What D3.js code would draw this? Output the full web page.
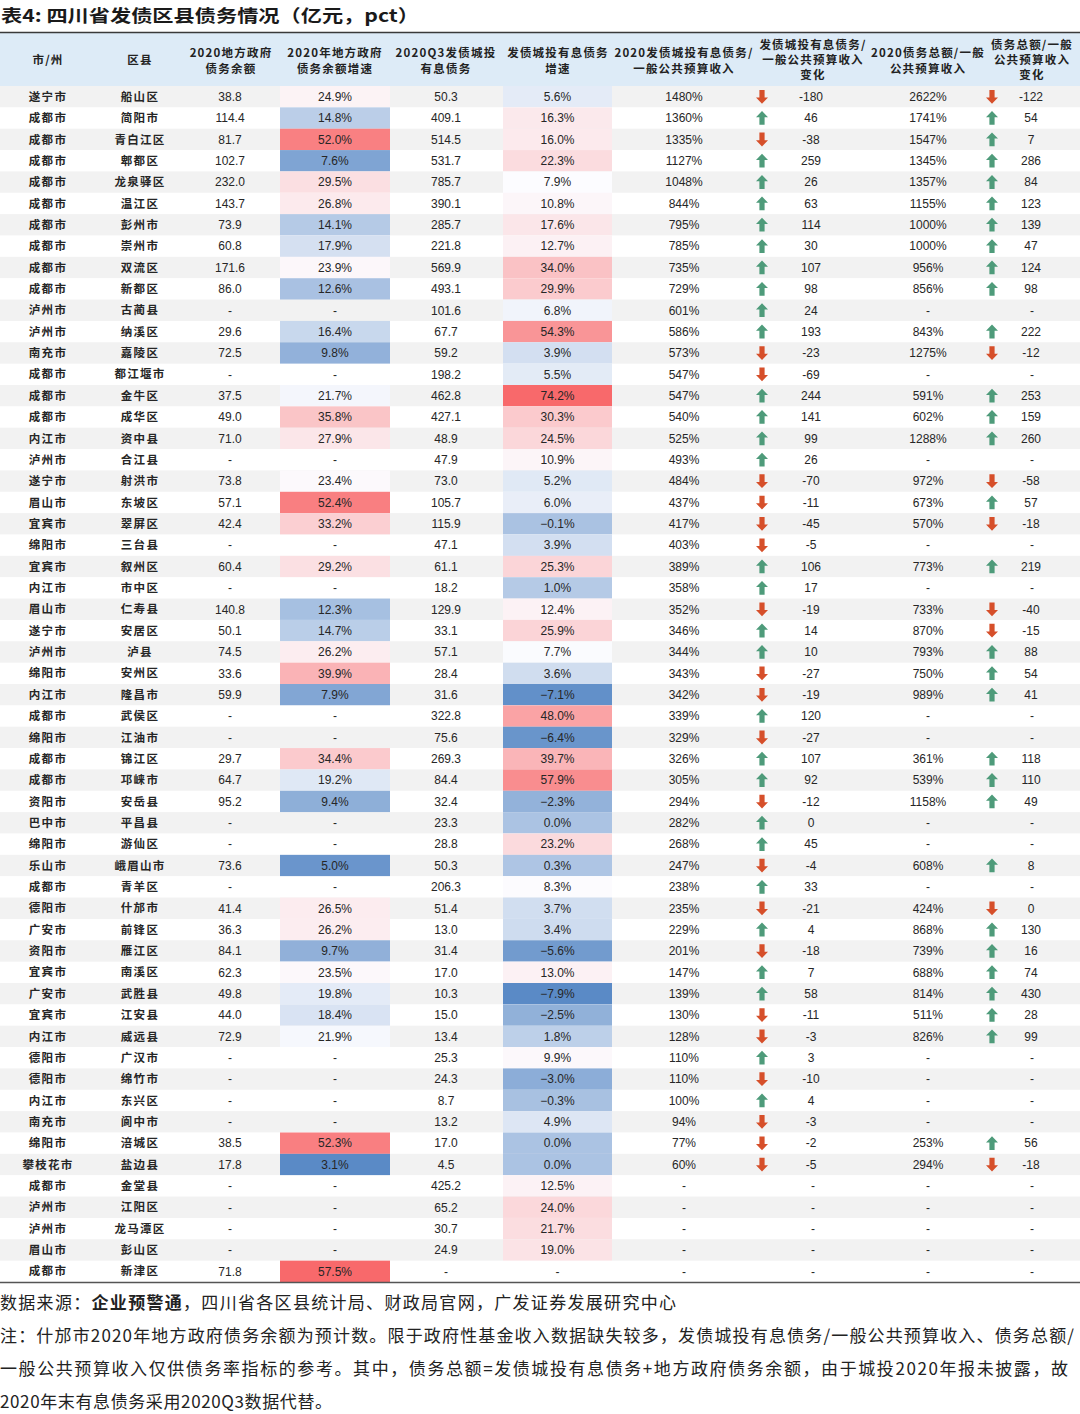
<!DOCTYPE html>
<html><head><meta charset="utf-8">
<script src="https://cdn.jsdelivr.net/npm/d3@7"></script>
<style>body{margin:0;background:#fff}</style>
</head><body><svg id="c" width="1080" height="1414"></svg>
<script>
// ---------- DATA ----------
const cities=["遂宁市","成都市","成都市","成都市","成都市","成都市","成都市","成都市","成都市","成都市","泸州市","泸州市","南充市","成都市","成都市","成都市","内江市","泸州市","遂宁市","眉山市","宜宾市","绵阳市","宜宾市","内江市","眉山市","遂宁市","泸州市","绵阳市","内江市","成都市","绵阳市","成都市","成都市","资阳市","巴中市","绵阳市","乐山市","成都市","德阳市","广安市","资阳市","宜宾市","广安市","宜宾市","内江市","德阳市","德阳市","内江市","南充市","绵阳市","攀枝花市","成都市","泸州市","泸州市","眉山市","成都市"];
const counties=["船山区","简阳市","青白江区","郫都区","龙泉驿区","温江区","彭州市","崇州市","双流区","新都区","古蔺县","纳溪区","嘉陵区","都江堰市","金牛区","成华区","资中县","合江县","射洪市","东坡区","翠屏区","三台县","叙州区","市中区","仁寿县","安居区","泸县","安州区","隆昌市","武侯区","江油市","锦江区","邛崃市","安岳县","平昌县","游仙区","峨眉山市","青羊区","什邡市","前锋区","雁江区","南溪区","武胜县","江安县","威远县","广汉市","绵竹市","东兴区","阆中市","涪城区","盐边县","金堂县","江阳区","龙马潭区","彭山区","新津区"];
const govDebt=[38.8,114.4,81.7,102.7,232.0,143.7,73.9,60.8,171.6,86.0,null,29.6,72.5,null,37.5,49.0,71.0,null,73.8,57.1,42.4,null,60.4,null,140.8,50.1,74.5,33.6,59.9,null,null,29.7,64.7,95.2,null,null,73.6,null,41.4,36.3,84.1,62.3,49.8,44.0,72.9,null,null,null,null,38.5,17.8,null,null,null,null,71.8];
const govGrowth=[24.9,14.8,52.0,7.6,29.5,26.8,14.1,17.9,23.9,12.6,null,16.4,9.8,null,21.7,35.8,27.9,null,23.4,52.4,33.2,null,29.2,null,12.3,14.7,26.2,39.9,7.9,null,null,34.4,19.2,9.4,null,null,5.0,null,26.5,26.2,9.7,23.5,19.8,18.4,21.9,null,null,null,null,52.3,3.1,null,null,null,null,57.5];
const lgfvDebt=[50.3,409.1,514.5,531.7,785.7,390.1,285.7,221.8,569.9,493.1,101.6,67.7,59.2,198.2,462.8,427.1,48.9,47.9,73.0,105.7,115.9,47.1,61.1,18.2,129.9,33.1,57.1,28.4,31.6,322.8,75.6,269.3,84.4,32.4,23.3,28.8,50.3,206.3,51.4,13.0,31.4,17.0,10.3,15.0,13.4,25.3,24.3,8.7,13.2,17.0,4.5,425.2,65.2,30.7,24.9,null];
const lgfvGrowth=[5.6,16.3,16.0,22.3,7.9,10.8,17.6,12.7,34.0,29.9,6.8,54.3,3.9,5.5,74.2,30.3,24.5,10.9,5.2,6.0,-0.1,3.9,25.3,1.0,12.4,25.9,7.7,3.6,-7.1,48.0,-6.4,39.7,57.9,-2.3,0.0,23.2,0.3,8.3,3.7,3.4,-5.6,13.0,-7.9,-2.5,1.8,9.9,-3.0,-0.3,4.9,0.0,0.0,12.5,24.0,21.7,19.0,null];
const lgfvRatio=[1480,1360,1335,1127,1048,844,795,785,735,729,601,586,573,547,547,540,525,493,484,437,417,403,389,358,352,346,344,343,342,339,329,326,305,294,282,268,247,238,235,229,201,147,139,130,128,110,110,100,94,77,60,null,null,null,null,null];
const lgfvRatioChg=[-180,46,-38,259,26,63,114,30,107,98,24,193,-23,-69,244,141,99,26,-70,-11,-45,-5,106,17,-19,14,10,-27,-19,120,-27,107,92,-12,0,45,-4,33,-21,4,-18,7,58,-11,-3,3,-10,4,-3,-2,-5,null,null,null,null,null];
const lgfvRatioDir=[-1,1,-1,1,1,1,1,1,1,1,1,1,-1,-1,1,1,1,1,-1,-1,-1,-1,1,1,-1,1,1,-1,-1,1,-1,1,1,-1,1,1,-1,1,-1,1,-1,1,1,-1,-1,1,-1,1,-1,-1,-1,null,null,null,null,null];
const totalRatio=[2622,1741,1547,1345,1357,1155,1000,1000,956,856,null,843,1275,null,591,602,1288,null,972,673,570,null,773,null,733,870,793,750,989,null,null,361,539,1158,null,null,608,null,424,868,739,688,814,511,826,null,null,null,null,253,294,null,null,null,null,null];
const totalRatioChg=[-122,54,7,286,84,123,139,47,124,98,null,222,-12,null,253,159,260,null,-58,57,-18,null,219,null,-40,-15,88,54,41,null,null,118,110,49,null,null,8,null,0,130,16,74,430,28,99,null,null,null,null,56,-18,null,null,null,null,null];
const totalRatioDir=[-1,1,1,1,1,1,1,1,1,1,null,1,-1,null,1,1,1,null,-1,1,-1,null,1,null,-1,-1,1,1,1,null,null,1,1,1,null,null,1,null,-1,1,1,1,1,1,1,null,null,null,null,1,-1,null,null,null,null,null];

const headers=[
  ["市/州"],["区县"],["2020地方政府","债务余额"],["2020年地方政府","债务余额增速"],
  ["2020Q3发债城投","有息债务"],["发债城投有息债务","增速"],["2020发债城投有息债务/","一般公共预算收入"],
  ["发债城投有息债务/","一般公共预算收入","变化"],["2020债务总额/一般","公共预算收入"],["债务总额/一般","公共预算收入","变化"]
];
const title="表4:  四川省发债区县债务情况（亿元，pct）";

// ---------- LAYOUT ----------
const W=1080,H=1414;
const headerX=[48,140,231,335,446,558,684,813,928,1032];
const X={city:48,county:140,gov:230,govG:[280,390],lgfv:446,lgfvG:[503,612],r1:684,a1:762,c1:811,r2:928,a2:992,c2:1031};
const numFont="'Liberation Sans', Arial, sans-serif";
const cjkFont="'Noto Sans CJK SC', sans-serif";

const svg=d3.select("#c");
svg.append("rect").attr("width",W).attr("height",H).attr("fill","#fff");

const n=cities.length;
const y=d3.scaleBand().domain(d3.range(n)).range([86,1282]);
const bw=y.bandwidth();

const cs4=d3.scaleLinear().domain([d3.min(govGrowth),d3.median(govGrowth),d3.max(govGrowth)]).range(["#5A8AC6","#FCFCFF","#F8696B"]);
const cs6=d3.scaleLinear().domain([d3.min(lgfvGrowth),d3.median(lgfvGrowth),d3.max(lgfvGrowth)]).range(["#5A8AC6","#FCFCFF","#F8696B"]);

// title
svg.append("text").attr("x",1).attr("y",22).attr("font-family",cjkFont).attr("font-weight",700)
  .attr("font-size",17.5).attr("fill","#1a1a1a").attr("textLength",418).attr("lengthAdjust","spacingAndGlyphs").text(title);

// header
svg.append("rect").attr("x",0).attr("y",33).attr("width",W).attr("height",53).attr("fill","#DDEBF7");
const hg=svg.append("g");
headers.forEach((lines,i)=>{
  const ys = lines.length===1?[59.5]:lines.length===2?[53,68.5]:[44.5,60,75];
  lines.forEach((t,j)=>{
    hg.append("text").attr("x",headerX[i]).attr("y",ys[j]).attr("dy","0.35em").attr("text-anchor","middle")
      .attr("font-family",cjkFont).attr("font-weight",700).attr("font-size",11.5).attr("letter-spacing",1.2)
      .attr("fill","#222").text(t);
  });
});

// rows
const rows=svg.append("g").selectAll("g").data(d3.range(n)).join("g");
rows.append("rect").attr("x",0).attr("y",i=>y(i)).attr("width",W).attr("height",bw+0.3)
  .attr("fill",i=>i%2===0?"#F2F2F2":"#FFFFFF");
rows.filter(i=>govGrowth[i]!==null).append("rect").attr("x",X.govG[0]).attr("y",i=>y(i)).attr("width",X.govG[1]-X.govG[0]).attr("height",bw+0.3)
  .attr("fill",i=>cs4(govGrowth[i]));
rows.filter(i=>lgfvGrowth[i]!==null).append("rect").attr("x",X.lgfvG[0]).attr("y",i=>y(i)).attr("width",X.lgfvG[1]-X.lgfvG[0]).attr("height",bw+0.3)
  .attr("fill",i=>cs6(lgfvGrowth[i]));

function cell(x,fn,font,opts={}){
  rows.append("text").attr("x",x).attr("y",i=>y(i)+bw/2).attr("dy","0.36em").attr("text-anchor","middle")
    .attr("font-family",font).attr("font-size",opts.size||12).attr("font-weight",opts.weight||400)
    .attr("letter-spacing",opts.ls||0).attr("fill","#262626").text(fn);
}
cell(X.city,i=>cities[i],cjkFont,{weight:700,size:11.5,ls:1.3});
cell(X.county,i=>counties[i],cjkFont,{weight:700,size:11.5,ls:1.3});
cell(X.gov,i=>govDebt[i]===null?"-":d3.format(".1f")(govDebt[i]),numFont);
cell(X.govG[0]+(X.govG[1]-X.govG[0])/2,i=>govGrowth[i]===null?"-":d3.format(".1f")(govGrowth[i])+"%",numFont);
cell(X.lgfv,i=>lgfvDebt[i]===null?"-":d3.format(".1f")(lgfvDebt[i]),numFont);
cell(X.lgfvG[0]+(X.lgfvG[1]-X.lgfvG[0])/2,i=>lgfvGrowth[i]===null?"-":d3.format(".1f")(lgfvGrowth[i])+"%",numFont);
cell(X.r1,i=>lgfvRatio[i]===null?"-":lgfvRatio[i]+"%",numFont);
cell(813,i=>lgfvRatioChg[i]===null?"-":null,numFont);
cell(X.c1,i=>lgfvRatioChg[i]===null?null:String(lgfvRatioChg[i]),numFont);
cell(X.r2,i=>totalRatio[i]===null?"-":totalRatio[i]+"%",numFont);
cell(1032,i=>totalRatioChg[i]===null?"-":null,numFont);
cell(X.c2,i=>totalRatioChg[i]===null?null:String(totalRatioChg[i]),numFont);

// arrows
const arrowPath="M0,-7L6,-0.8L2.6,-0.8L2.6,6.8L-2.6,6.8L-2.6,-0.8L-6,-0.8Z";
function arrows(x,dirArr){
  rows.filter(i=>dirArr[i]!==null).append("path").attr("d",arrowPath)
    .attr("transform",i=>`translate(${x},${y(i)+bw/2}) scale(1,${dirArr[i]>0?1:-1})`)
    .attr("fill",i=>dirArr[i]>0?"#4E9B7A":"#D64F2A");
}
arrows(X.a1,lgfvRatioDir);
arrows(X.a2,totalRatioDir);

// borders
svg.append("line").attr("x1",0).attr("x2",W).attr("y1",32.5).attr("y2",32.5).attr("stroke","#3a3a3a").attr("stroke-width",1.6);
svg.append("line").attr("x1",0).attr("x2",W).attr("y1",1282.5).attr("y2",1282.5).attr("stroke","#555").attr("stroke-width",1.6);

// footer
const foot=svg.append("g").attr("font-family",cjkFont).attr("font-size",17).attr("fill","#222");
const f1=foot.append("text").attr("x",0).attr("y",1309).attr("textLength",676).attr("lengthAdjust","spacing");
f1.append("tspan").text("数据来源：");
f1.append("tspan").attr("font-weight",700).text("企业预警通");
f1.append("tspan").text("，四川省各区县统计局、财政局官网，广发证券发展研究中心");
foot.append("text").attr("x",0).attr("y",1342).attr("textLength",1074).attr("lengthAdjust","spacing")
  .text("注：什邡市2020年地方政府债务余额为预计数。限于政府性基金收入数据缺失较多，发债城投有息债务/一般公共预算收入、债务总额/");
foot.append("text").attr("x",0).attr("y",1375).attr("textLength",1068).attr("lengthAdjust","spacing")
  .text("一般公共预算收入仅供债务率指标的参考。其中，债务总额=发债城投有息债务+地方政府债务余额，由于城投2020年报未披露，故");
foot.append("text").attr("x",0).attr("y",1408).attr("textLength",332).attr("lengthAdjust","spacing")
  .text("2020年末有息债务采用2020Q3数据代替。");
</script></body></html>
